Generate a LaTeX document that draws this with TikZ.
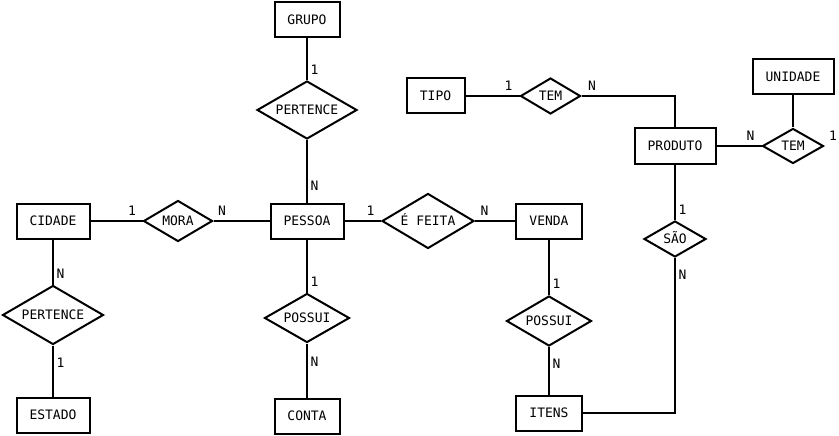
\documentclass[tikz,border=0pt]{standalone}
\usepackage{fontspec}
\setmainfont{DejaVu Sans Mono}
\usetikzlibrary{shapes.geometric}
\tikzset{
  ent/.style={draw, line width=2pt, inner sep=0pt, text height=9.5pt, text depth=0pt, font=\fontsize{13}{15}\selectfont},
  rel/.style={draw, diamond, aspect=2, line width=2pt, inner sep=0pt, text height=9.5pt, text depth=0pt, font=\fontsize{13}{15}\selectfont},
  card/.style={inner sep=0pt, font=\fontsize{13}{15}\selectfont},
  conn/.style={line width=2pt}
}
\begin{document}
\begin{tikzpicture}[x=1pt,y=-1pt]
\useasboundingbox (0,0) rectangle (839,436);
% entities
\node[ent, minimum width=65, minimum height=35] (grupo) at (307,20) {GRUPO};
\node[ent, minimum width=73, minimum height=35] (pessoa) at (307,221) {PESSOA};
\node[ent, minimum width=73, minimum height=35] (cidade) at (53,221) {CIDADE};
\node[ent, minimum width=73, minimum height=35] (estado) at (53,415) {ESTADO};
\node[ent, minimum width=65, minimum height=35] (conta) at (307,416) {CONTA};
\node[ent, minimum width=66, minimum height=35] (venda) at (549,221) {VENDA};
\node[ent, minimum width=66, minimum height=35] (itens) at (549,413) {ITENS};
\node[ent, minimum width=58, minimum height=35] (tipo) at (435.5,96) {TIPO};
\node[ent, minimum width=81, minimum height=35] (produto) at (675,146) {PRODUTO};
\node[ent, minimum width=81, minimum height=35] (unidade) at (793,77) {UNIDADE};
% relationships
\node[rel, minimum width=100, minimum height=58] (per1) at (307,110) {PERTENCE};
\node[rel, minimum width=69, minimum height=41] (mora) at (178,221) {MORA};
\node[rel, minimum width=101, minimum height=59] (per2) at (53,315) {PERTENCE};
\node[rel, minimum width=85, minimum height=49] (pos1) at (307,318) {POSSUI};
\node[rel, minimum width=92, minimum height=55] (efeita) at (428,221) {É FEITA};
\node[rel, minimum width=85, minimum height=50] (pos2) at (549,321) {POSSUI};
\node[rel, minimum width=60, minimum height=36] (tem1) at (550.5,96) {TEM};
\node[rel, minimum width=61, minimum height=35] (tem2) at (793,146) {TEM};
\node[rel, minimum width=62, minimum height=36] (sao) at (675,239) {SÃO};
% connectors
\draw[conn] (grupo.south) -- (per1.north);
\draw[conn] (per1.south) -- (pessoa.north);
\draw[conn] (cidade.east) -- (mora.west);
\draw[conn] (mora.east) -- (pessoa.west);
\draw[conn] (cidade.south) -- (per2.north);
\draw[conn] (per2.south) -- (estado.north);
\draw[conn] (pessoa.south) -- (pos1.north);
\draw[conn] (pos1.south) -- (conta.north);
\draw[conn] (pessoa.east) -- (efeita.west);
\draw[conn] (efeita.east) -- (venda.west);
\draw[conn] (venda.south) -- (pos2.north);
\draw[conn] (pos2.south) -- (itens.north);
\draw[conn] (tipo.east) -- (tem1.west);
\draw[conn] (tem1.east) -| (produto.north);
\draw[conn] (produto.east) -- (tem2.west);
\draw[conn] (tem2.north) -- (unidade.south);
\draw[conn] (produto.south) -- (sao.north);
\draw[conn] (itens.east) -| (sao.south);
% cardinalities
\node[card] (c1) at (314.5,70) {1};
\node[card] (c2) at (314.5,186) {N};
\node[card] (c3) at (132,211) {1};
\node[card] (c4) at (222,211) {N};
\node[card] (c5) at (60.5,274) {N};
\node[card] (c6) at (60.5,363) {1};
\node[card] (c7) at (314.5,282) {1};
\node[card] (c8) at (314.5,362) {N};
\node[card] (c9) at (370.5,211) {1};
\node[card] (c10) at (484.5,211) {N};
\node[card] (c11) at (556.5,284) {1};
\node[card] (c12) at (556.5,364) {N};
\node[card] (c13) at (508.5,86) {1};
\node[card] (c14) at (592,86) {N};
\node[card] (c15) at (750.5,136) {N};
\node[card] (c16) at (833,136) {1};
\node[card] (c17) at (682.5,210) {1};
\node[card] (c18) at (682.5,275) {N};
\end{tikzpicture}
\end{document}
